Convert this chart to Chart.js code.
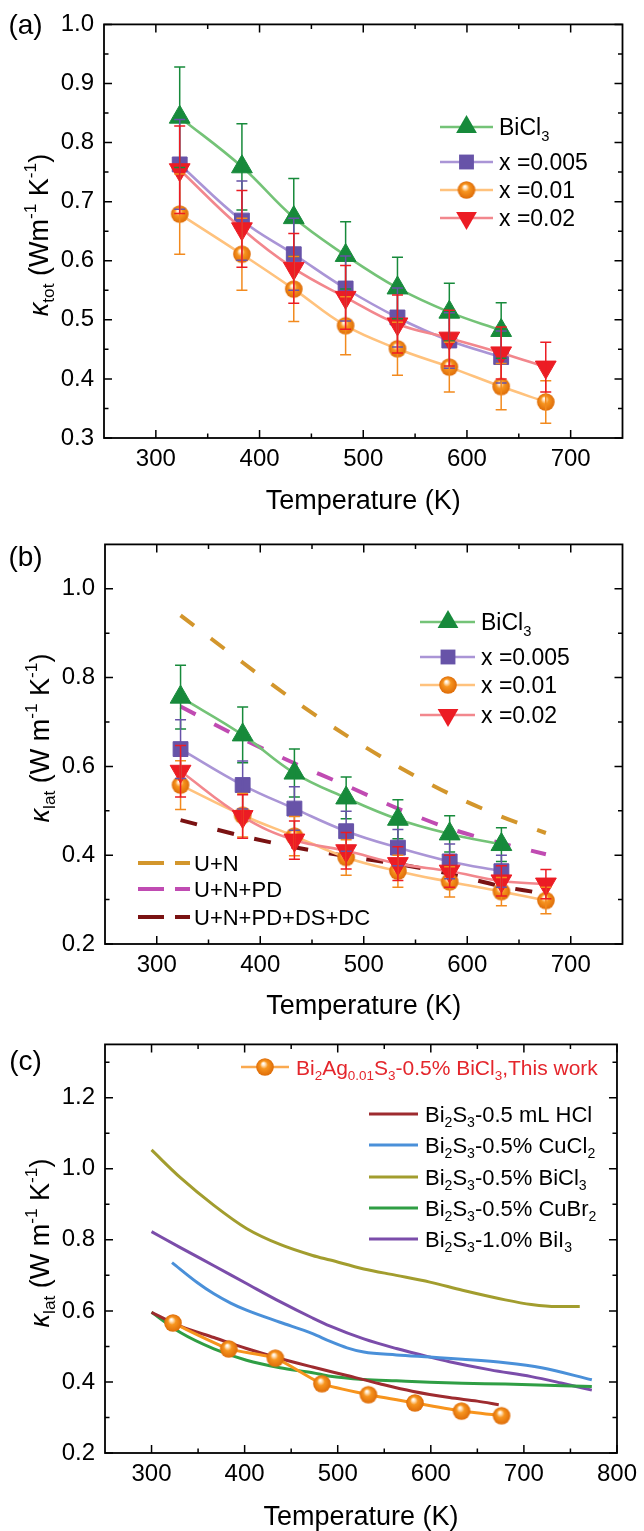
<!DOCTYPE html>
<html>
<head>
<meta charset="utf-8">
<script src="https://cdn.jsdelivr.net/npm/chart.js@4.4.1/dist/chart.umd.min.js"></script>
<style>
  html, body { margin: 0; padding: 0; background: #fff; }
  #wrap { position: relative; width: 644px; height: 1531px; overflow: hidden; background: #fff; }
  #wrap canvas { position: absolute; left: 0; }
</style>
</head>
<body>
<div id="wrap">
  <canvas id="ca" width="644" height="520" style="top:0px"></canvas>
  <canvas id="cb" width="644" height="500" style="top:520px"></canvas>
  <canvas id="cc" width="644" height="511" style="top:1020px"></canvas>
</div>
<script>
// ---------- data ----------
const tempK = [323, 383, 433, 483, 533, 583, 633, 676];

// (a) total thermal conductivity
const totBiCl3    = [0.843, 0.759, 0.673, 0.609, 0.554, 0.513, 0.482];
const totBiCl3Err = [0.085, 0.073, 0.066, 0.057, 0.052, 0.049, 0.047];
const totX005     = [0.763, 0.668, 0.611, 0.553, 0.504, 0.465, 0.437];
const totX005Err  = [0.076, 0.067, 0.061, 0.055, 0.050, 0.047, 0.044];
const totX01      = [0.679, 0.611, 0.552, 0.490, 0.451, 0.420, 0.387, 0.361];
const totX01Err   = [0.068, 0.061, 0.055, 0.049, 0.045, 0.042, 0.039, 0.036];
const totX02      = [0.754, 0.654, 0.587, 0.538, 0.493, 0.469, 0.444, 0.420];
const totX02Err   = [0.074, 0.065, 0.059, 0.054, 0.049, 0.047, 0.044, 0.042];

// (b) lattice thermal conductivity
const latBiCl3    = [0.756, 0.671, 0.585, 0.529, 0.481, 0.448, 0.424];
const latBiCl3Err = [0.072, 0.063, 0.054, 0.047, 0.044, 0.041, 0.038];
const latX005     = [0.639, 0.558, 0.505, 0.454, 0.417, 0.386, 0.364];
const latX005Err  = [0.066, 0.054, 0.049, 0.045, 0.041, 0.039, 0.036];
const latX01      = [0.558, 0.490, 0.443, 0.395, 0.364, 0.340, 0.318, 0.298];
const latX01Err   = [0.055, 0.049, 0.044, 0.040, 0.036, 0.034, 0.032, 0.030];
const latX02      = [0.589, 0.487, 0.434, 0.410, 0.381, 0.364, 0.342, 0.335];
const latX02Err   = [0.058, 0.049, 0.043, 0.041, 0.038, 0.036, 0.034, 0.033];

// (b) Debye-Callaway model curves
const modelUN     = [0.940, 0.834, 0.748, 0.670, 0.600, 0.538, 0.487, 0.450];
const modelUNPD   = [0.735, 0.662, 0.607, 0.557, 0.505, 0.460, 0.427, 0.402];
const modelFull   = [0.479, 0.443, 0.418, 0.398, 0.380, 0.358, 0.330, 0.313];

// (c) comparison with literature
const thisWorkT = [323, 383, 433, 483, 533, 583, 633, 676];
const thisWorkK = [0.566, 0.493, 0.467, 0.395, 0.364, 0.341, 0.318, 0.305];
const hclT   = [300, 331, 367, 402, 438, 473, 510, 545, 580, 620, 650, 673];
const hclK   = [0.596, 0.557, 0.525, 0.494, 0.466, 0.442, 0.418, 0.395, 0.374, 0.356, 0.346, 0.336];
const cuCl2T = [322, 349, 367, 385, 402, 438, 473, 492, 510, 528, 563, 599, 634, 680, 719, 773];
const cuCl2K = [0.736, 0.680, 0.648, 0.622, 0.602, 0.568, 0.536, 0.514, 0.496, 0.484, 0.476, 0.470, 0.464, 0.454, 0.440, 0.406];
const biCl3T = [300, 331, 367, 402, 438, 473, 492, 528, 563, 599, 634, 680, 708, 735, 760];
const biCl3K = [1.053, 0.975, 0.897, 0.832, 0.787, 0.756, 0.743, 0.718, 0.700, 0.681, 0.658, 0.631, 0.618, 0.612, 0.612];
const cuBr2T = [300, 331, 367, 402, 438, 473, 492, 528, 563, 599, 634, 680, 773];
const cuBr2K = [0.596, 0.539, 0.493, 0.461, 0.440, 0.426, 0.416, 0.407, 0.403, 0.399, 0.396, 0.394, 0.387];
const biI3T  = [300, 331, 367, 402, 438, 473, 492, 528, 563, 599, 620, 664, 708, 740, 773];
const biI3K  = [0.823, 0.778, 0.727, 0.677, 0.626, 0.580, 0.557, 0.521, 0.494, 0.470, 0.457, 0.434, 0.415, 0.397, 0.377];

// tick labels
const xTicksAB = [300, 400, 500, 600, 700];
const yTicksA  = [0.3, 0.4, 0.5, 0.6, 0.7, 0.8, 0.9, 1.0];
const yTicksB  = [0.2, 0.4, 0.6, 0.8, 1.0];
const xTicksC  = [300, 400, 500, 600, 700, 800];
const yTicksC  = [0.2, 0.4, 0.6, 0.8, 1.0, 1.2];

// legend / axis text
const seriesNames = ['BiCl_{3}', 'x =0.005', 'x =0.01', 'x =0.02'];
const modelNames  = ['U+N', 'U+N+PD', 'U+N+PD+DS+DC'];
const thisWorkName = 'Bi_{2}Ag_{0.01}S_{3}-0.5% BiCl_{3},This work';
const litNames = ['Bi_{2}S_{3}-0.5 mL HCl', 'Bi_{2}S_{3}-0.5% CuCl_{2}', 'Bi_{2}S_{3}-0.5% BiCl_{3}',
                  'Bi_{2}S_{3}-0.5% CuBr_{2}', 'Bi_{2}S_{3}-1.0% BiI_{3}'];
const xTitle = 'Temperature (K)';
const yTitleA = '~{κ}_{tot} (Wm^{-1} K^{-1})';
const yTitleLat = '~{κ}_{lat} (W m^{-1} K^{-1})';

// ---------- styling ----------
const FONT = "'Liberation Sans', Arial, Helvetica, sans-serif";
const C = {
  green:  { line: '#74C377', mark: '#178A3B' },
  purple: { line: '#AA95D6', mark: '#6753A8' },
  orange: { line: '#FFC27D', mark: '#F28A1E' },
  red:    { line: '#F2878D', mark: '#EC1C24' },
  un: '#D3962C', unpd: '#C04BB2', full: '#7A1212',
  tw: '#F7941D', hcl: '#9E2B2F', cucl2: '#4A90D9', bicl3: '#A29D2E', cubr2: '#2F9E44', bii3: '#7B4DAA'
};
const TRI_R = 12, SQ_R = 10.5, SPH_R = 8.8, CAP = 5.5;

// shaded orange ball used as point marker
function makeSphere(r) {
  const c = document.createElement('canvas');
  const s = Math.ceil(r * 2 + 2);
  c.width = s; c.height = s;
  const g = c.getContext('2d');
  const cx = s / 2, cy = s / 2;
  const grad = g.createRadialGradient(cx - r * 0.2, cy - r * 0.4, r * 0.04, cx, cy, r);
  grad.addColorStop(0, '#FFFFFF');
  grad.addColorStop(0.16, '#FFE2BC');
  grad.addColorStop(0.42, '#F7951F');
  grad.addColorStop(1, '#DE6C08');
  g.fillStyle = grad;
  g.beginPath(); g.arc(cx, cy, r, 0, Math.PI * 2); g.fill();
  return c;
}
const sphere = makeSphere(SPH_R);

// ---------- rich text (sub/superscripts, italic) ----------
function parseRich(str) {
  const out = []; let buf = ''; let i = 0;
  while (i < str.length) {
    const c = str[i];
    if ((c === '_' || c === '^' || c === '~') && str[i + 1] === '{') {
      if (buf) { out.push({ t: buf, m: '' }); buf = ''; }
      const j = str.indexOf('}', i);
      out.push({ t: str.slice(i + 2, j), m: c === '_' ? 'sub' : (c === '^' ? 'sup' : 'it') });
      i = j + 1;
    } else { buf += c; i++; }
  }
  if (buf) out.push({ t: buf, m: '' });
  return out;
}
function drawRich(ctx, markup, x, y, size, color, align) {
  const segs = parseRich(markup);
  const fontFor = m => {
    const s = (m === 'sub' || m === 'sup') ? size * 0.64 : size;
    return (m === 'it' ? 'italic ' : '') + s + 'px ' + FONT;
  };
  let total = 0;
  segs.forEach(sg => { ctx.font = fontFor(sg.m); sg.w = ctx.measureText(sg.t).width; total += sg.w; });
  let cx = align === 'center' ? x - total / 2 : (align === 'right' ? x - total : x);
  const base = y + size * 0.36;
  ctx.fillStyle = color; ctx.textBaseline = 'alphabetic'; ctx.textAlign = 'left';
  segs.forEach(sg => {
    ctx.font = fontFor(sg.m);
    let by = base;
    if (sg.m === 'sub') by = base + size * 0.24;
    if (sg.m === 'sup') by = base - size * 0.42;
    ctx.fillText(sg.t, cx, by);
    cx += sg.w;
  });
}
function drawYTitle(ctx, markup, cx, cy) {
  ctx.save();
  ctx.translate(cx, cy);
  ctx.rotate(-Math.PI / 2);
  drawRich(ctx, markup, 0, 0, 27, '#000', 'center');
  ctx.restore();
}
function drawMarker(ctx, kind, color, x, y) {
  if (kind === 'sphere') { ctx.drawImage(sphere, x - sphere.width / 2, y - sphere.height / 2); return; }
  ctx.fillStyle = color;
  ctx.beginPath();
  if (kind === 'tri' || kind === 'itri') {
    let rad = kind === 'tri' ? 0 : Math.PI;
    for (let k = 0; k < 3; k++) {
      const px = x + Math.sin(rad) * TRI_R, py = y - Math.cos(rad) * TRI_R;
      if (k) ctx.lineTo(px, py); else ctx.moveTo(px, py);
      rad += 2 * Math.PI / 3;
    }
    ctx.closePath();
  } else {
    const h = SQ_R * Math.SQRT1_2;
    ctx.rect(x - h, y - h, 2 * h, 2 * h);
  }
  ctx.fill();
}
function legendLine(ctx, x1, x2, y, color, width, dash) {
  ctx.save();
  ctx.strokeStyle = color; ctx.lineWidth = width; ctx.setLineDash(dash || []);
  ctx.beginPath(); ctx.moveTo(x1, y); ctx.lineTo(x2, y); ctx.stroke();
  ctx.restore();
}

// ---------- plugins ----------
function minorValues(majors, min, max) {
  const half = (majors[1] - majors[0]) / 2;
  const out = [];
  for (let v = majors[0] - half; v > min + 1e-9; v -= half * 2) out.push(v);
  majors.forEach(m => { const v = m + half; if (v < max - 1e-9) out.push(v); });
  return out;
}
const errorBarPlugin = {
  id: 'errorBars',
  afterDatasetsDraw(chart) {
    const { ctx, scales: { y: ys } } = chart;
    ctx.save();
    ctx.lineWidth = 1.5;
    chart.data.datasets.forEach((ds, i) => {
      if (!ds.errors) return;
      const meta = chart.getDatasetMeta(i);
      ctx.strokeStyle = ds.errorColor;
      ctx.beginPath();
      meta.data.forEach((pt, j) => {
        const v = ds.data[j].y, e = ds.errors[j];
        const top = ys.getPixelForValue(v + e), bot = ys.getPixelForValue(v - e);
        ctx.moveTo(pt.x, top); ctx.lineTo(pt.x, bot);
        ctx.moveTo(pt.x - CAP, top); ctx.lineTo(pt.x + CAP, top);
        ctx.moveTo(pt.x - CAP, bot); ctx.lineTo(pt.x + CAP, bot);
      });
      ctx.stroke();
    });
    ctx.restore();
  }
};
const framePlugin = {
  id: 'frameTicks',
  afterDatasetsDraw(chart) {
    const { ctx, chartArea: a, scales: { x: xs, y: ys } } = chart;
    ctx.save();
    ctx.strokeStyle = '#000';
    ctx.lineWidth = 1.5;
    ctx.beginPath();
    const majX = xs.ticks.map(t => t.value), majY = ys.ticks.map(t => t.value);
    const tickX = (v, len) => { const p = xs.getPixelForValue(v);
      ctx.moveTo(p, a.bottom); ctx.lineTo(p, a.bottom - len); ctx.moveTo(p, a.top); ctx.lineTo(p, a.top + len); };
    const tickY = (v, len) => { const p = ys.getPixelForValue(v);
      ctx.moveTo(a.left, p); ctx.lineTo(a.left + len, p); ctx.moveTo(a.right, p); ctx.lineTo(a.right - len, p); };
    majX.forEach(v => tickX(v, 8));
    minorValues(majX, xs.min, xs.max).forEach(v => tickX(v, 4.5));
    majY.forEach(v => tickY(v, 8));
    minorValues(majY, ys.min, ys.max).forEach(v => tickY(v, 4.5));
    ctx.stroke();
    ctx.lineWidth = 1.8;
    ctx.strokeRect(a.left, a.top, a.right - a.left, a.bottom - a.top);
    ctx.restore();
  }
};
function overlay(draw) {
  return { id: 'overlay', afterDraw(chart) { const ctx = chart.ctx; ctx.save(); draw(ctx, chart); ctx.restore(); } };
}
function panelLetter(ctx, text, x, y) {
  ctx.font = '28px ' + FONT; ctx.fillStyle = '#000';
  ctx.textAlign = 'center'; ctx.textBaseline = 'middle';
  ctx.fillText(text, x, y);
}

// ---------- chart builders ----------
function scalesFor(xMin, xMax, xTicks, yMin, yMax, yTicks, yAxisWidth, xAxisHeight) {
  return {
    x: {
      type: 'linear', min: xMin, max: xMax,
      afterBuildTicks: s => { s.ticks = xTicks.map(v => ({ value: v })); },
      afterFit: s => { s.height = xAxisHeight; },
      grid: { display: false, drawTicks: false }, border: { display: false },
      ticks: { font: { family: FONT, size: 24 }, color: '#000', padding: 7, maxRotation: 0, autoSkip: false,
               callback: v => String(v) },
      title: { display: true, text: xTitle, color: '#000', padding: 0,
               font: { family: FONT, size: 27, lineHeight: 1 } }
    },
    y: {
      type: 'linear', min: yMin, max: yMax,
      afterBuildTicks: s => { s.ticks = yTicks.map(v => ({ value: v })); },
      afterFit: s => { s.width = yAxisWidth; },
      grid: { display: false, drawTicks: false }, border: { display: false },
      ticks: { font: { family: FONT, size: 24 }, color: '#000', padding: 10, autoSkip: false,
               callback: v => v.toFixed(1) }
    }
  };
}
function pts(xs, ys) { return ys.map((y, i) => ({ x: xs[i], y })); }
function measured(label, ys, errs, col, style, order) {
  const ds = {
    label, data: pts(tempK, ys), order,
    borderColor: col.line, borderWidth: 2.6, tension: 0.4, fill: false,
    pointRadius: style === 'sq' ? SQ_R : TRI_R,
    pointBackgroundColor: col.mark, pointBorderColor: col.mark, pointBorderWidth: 1,
    errors: errs, errorColor: col.mark
  };
  if (style === 'tri') { ds.pointStyle = 'triangle'; }
  if (style === 'itri') { ds.pointStyle = 'triangle'; ds.rotation = 180; }
  if (style === 'sq') { ds.pointStyle = 'rect'; }
  if (style === 'sphere') { ds.pointStyle = sphere; ds.pointRadius = SPH_R; }
  return ds;
}
function modelLine(label, ys, color) {
  return { label, data: pts(tempK, ys), order: 10, borderColor: color, borderWidth: 4,
           borderDash: [17, 21], tension: 0.3, pointRadius: 0, fill: false };
}
function litLine(label, xs, ys, color) {
  return { label, data: pts(xs, ys), order: 5, borderColor: color, borderWidth: 3,
           cubicInterpolationMode: 'monotone', pointRadius: 0, fill: false };
}
const common = {
  responsive: false, animation: false, devicePixelRatio: 1, events: [],
  plugins: { legend: { display: false }, tooltip: { enabled: false } }
};

// ---------- (a) ----------
new Chart(document.getElementById('ca'), {
  type: 'line',
  data: { datasets: [
    measured(seriesNames[0], totBiCl3, totBiCl3Err, C.green, 'tri', 4),
    measured(seriesNames[1], totX005, totX005Err, C.purple, 'sq', 3),
    measured(seriesNames[2], totX01, totX01Err, C.orange, 'sphere', 2),
    measured(seriesNames[3], totX02, totX02Err, C.red, 'itri', 1)
  ] },
  options: Object.assign({}, common, {
    layout: { padding: { top: 23, right: 21.5, bottom: 5, left: 0 } },
    scales: scalesFor(250, 750, xTicksAB, 0.3, 1.0, yTicksA, 104, 77)
  }),
  plugins: [framePlugin, errorBarPlugin, overlay((ctx) => {
    panelLetter(ctx, '(a)', 25.5, 26);
    drawYTitle(ctx, yTitleA, 38, 235);
    const rows = [127, 162, 190, 218];
    const cols = [C.green, C.purple, C.orange, C.red];
    const kinds = ['tri', 'sq', 'sphere', 'itri'];
    rows.forEach((y, i) => {
      legendLine(ctx, 440, 493, y, cols[i].line, 2.6);
      drawMarker(ctx, kinds[i], cols[i].mark, 466.5, y);
      drawRich(ctx, seriesNames[i], 499, y, 23, '#000', 'left');
    });
  })]
});

// ---------- (b) ----------
new Chart(document.getElementById('cb'), {
  type: 'line',
  data: { datasets: [
    measured(seriesNames[0], latBiCl3, latBiCl3Err, C.green, 'tri', 4),
    measured(seriesNames[1], latX005, latX005Err, C.purple, 'sq', 3),
    measured(seriesNames[2], latX01, latX01Err, C.orange, 'sphere', 2),
    measured(seriesNames[3], latX02, latX02Err, C.red, 'itri', 1),
    modelLine(modelNames[0], modelUN, C.un),
    modelLine(modelNames[1], modelUNPD, C.unpd),
    modelLine(modelNames[2], modelFull, C.full)
  ] },
  options: Object.assign({}, common, {
    layout: { padding: { top: 13, right: 21.5, bottom: 0, left: 0 } },
    scales: scalesFor(250, 750, xTicksAB, 0.2, 1.1, yTicksB, 105, 76)
  }),
  plugins: [framePlugin, errorBarPlugin, overlay((ctx) => {
    panelLetter(ctx, '(b)', 25.5, 38);
    drawYTitle(ctx, yTitleLat, 39, 218);
    const rows = [102, 137, 165, 195];
    const cols = [C.green, C.purple, C.orange, C.red];
    const kinds = ['tri', 'sq', 'sphere', 'itri'];
    rows.forEach((y, i) => {
      legendLine(ctx, 420, 475, y, cols[i].line, 2.6);
      drawMarker(ctx, kinds[i], cols[i].mark, 448, y);
      drawRich(ctx, seriesNames[i], 481, y, 23, '#000', 'left');
    });
    const mrows = [343, 369, 397];
    const mcols = [C.un, C.unpd, C.full];
    mrows.forEach((y, i) => {
      legendLine(ctx, 138, 190, y, mcols[i], 4, [26, 11]);
      drawRich(ctx, modelNames[i], 194, y, 22, '#000', 'left');
    });
  })]
});

// ---------- (c) ----------
new Chart(document.getElementById('cc'), {
  type: 'line',
  data: { datasets: [
    { label: 'This work', data: pts(thisWorkT, thisWorkK), order: 0, borderColor: C.tw, borderWidth: 3,
      tension: 0.2, pointStyle: sphere, pointRadius: SPH_R, fill: false },
    litLine(litNames[0], hclT, hclK, C.hcl),
    litLine(litNames[1], cuCl2T, cuCl2K, C.cucl2),
    litLine(litNames[2], biCl3T, biCl3K, C.bicl3),
    litLine(litNames[3], cuBr2T, cuBr2K, C.cubr2),
    litLine(litNames[4], biI3T, biI3K, C.bii3)
  ] },
  options: Object.assign({}, common, {
    layout: { padding: { top: 15, right: 21, bottom: 0, left: 0 } },
    scales: scalesFor(250, 800, xTicksC, 0.2, 1.35, yTicksC, 105, 78)
  }),
  plugins: [framePlugin, overlay((ctx) => {
    panelLetter(ctx, '(c)', 25.5, 42);
    drawYTitle(ctx, yTitleLat, 39, 223);
    legendLine(ctx, 241, 289, 47, '#FAA94F', 2.6);
    drawMarker(ctx, 'sphere', null, 265, 47);
    drawRich(ctx, thisWorkName, 296, 47, 21, '#E4262C', 'left');
    const rows = [94, 125, 157, 188, 219];
    const cols = [C.hcl, C.cucl2, C.bicl3, C.cubr2, C.bii3];
    rows.forEach((y, i) => {
      legendLine(ctx, 369, 418, y, cols[i], 3);
      drawRich(ctx, litNames[i], 425, y, 22, '#000', 'left');
    });
  })]
});
</script>
</body>
</html>
